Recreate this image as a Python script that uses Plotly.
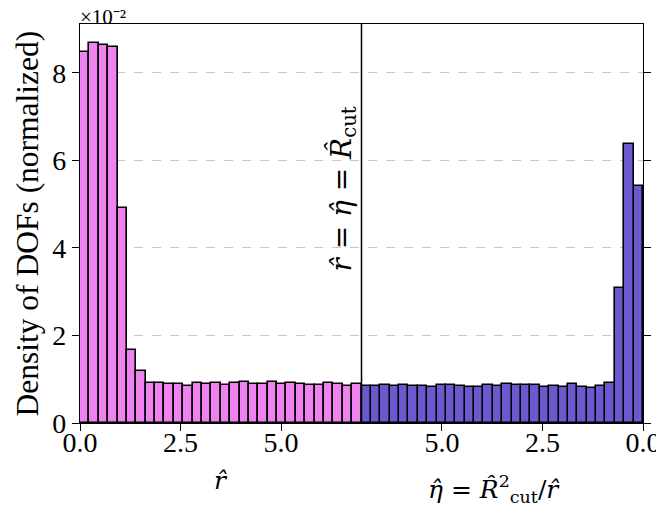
import numpy as np
import plotly.graph_objects as go

# ---- data (density of DOFs, in units of 1e-2) ----
R_CUT = 7.0
N_BINS = 30

r_density = [8.47, 8.68, 8.63, 8.60, 4.92, 1.67, 1.19, 0.91, 0.91, 0.89,
             0.89, 0.84, 0.92, 0.89, 0.905, 0.875, 0.905, 0.93, 0.88, 0.89,
             0.94, 0.88, 0.92, 0.89, 0.875, 0.875, 0.91, 0.89, 0.855, 0.88]

# eta bins in ascending eta (0 -> R_cut)
eta_density = [5.42, 6.38, 3.08, 0.905, 0.84, 0.79, 0.83, 0.89, 0.83, 0.845,
               0.83, 0.86, 0.86, 0.86, 0.897, 0.845, 0.874, 0.825, 0.821, 0.852,
               0.867, 0.859, 0.829, 0.836, 0.836, 0.874, 0.852, 0.867, 0.836, 0.836]

tick_vals = [0, 2.5, 5.0, 2 * R_CUT - 5.0, 2 * R_CUT - 2.5, 2 * R_CUT]
tick_text = ["0.0", "2.5", "5.0", "5.0", "2.5", "0.0"]
y_ticks = [0, 2, 4, 6, 8]

PINK = "#EE82EE"
BLUE = "#6A5ACD"
FONT = "Liberation Serif"
MATH = "DejaVu Serif"

edges = np.linspace(0, R_CUT, N_BINS + 1)
centers = 0.5 * (edges[:-1] + edges[1:])
width = edges[1] - edges[0]

fig = go.Figure()
fig.add_trace(go.Bar(
    x=centers, y=r_density, width=width,
    marker=dict(color=PINK, line=dict(color="black", width=1.6)),
    showlegend=False,
))
fig.add_trace(go.Bar(
    x=2 * R_CUT - centers, y=eta_density, width=width,
    marker=dict(color=BLUE, line=dict(color="black", width=1.6)),
    showlegend=False,
))

fig.add_shape(type="line", xref="x", yref="paper", x0=R_CUT, x1=R_CUT, y0=0, y1=1,
              line=dict(color="black", width=1.5))

ymax = max(max(r_density), max(eta_density)) * 1.05

fig.update_layout(
    width=656, height=502,
    margin=dict(l=72, r=21, t=16, b=87),
    plot_bgcolor="white", paper_bgcolor="white",
    bargap=0,
    font=dict(family=FONT, size=28, color="black"),
    xaxis=dict(range=[0, 2 * R_CUT], tickvals=tick_vals, ticktext=tick_text,
               ticks="outside", ticklen=7, tickwidth=1.3, tickcolor="black",
               showline=True, linecolor="black", linewidth=1.3, mirror=True,
               showgrid=False, zeroline=False, automargin=False,
               ticklabelstandoff=-13),
    yaxis=dict(range=[0, ymax], tickvals=y_ticks, ticktext=[str(v) for v in y_ticks],
               ticks="outside", ticklen=7, tickwidth=1.3, tickcolor="black",
               showline=True, linecolor="black", linewidth=1.3, mirror="ticks",
               showgrid=True, gridcolor="rgba(205,170,180,0.75)", griddash="dash",
               gridwidth=1.1, zeroline=False, automargin=False),
)

fig.add_annotation(text="Density of DOFs (normalized)", xref="paper", yref="paper",
                   x=0, y=0.5, xanchor="center", yanchor="middle", xshift=-53,
                   textangle=-90, showarrow=False, font=dict(size=31.5))
fig.add_annotation(text="×10⁻²", xref="paper", yref="paper",
                   x=0, y=1, xanchor="left", yanchor="bottom", showarrow=False,
                   font=dict(size=21), yshift=-7, xshift=-2)
fig.add_annotation(text="<i>r̂</i>", xref="x", yref="paper", x=R_CUT / 2, y=0,
                   yanchor="middle", yshift=-57, showarrow=False,
                   font=dict(family=MATH, size=25))
fig.add_annotation(text="<i>η̂</i> = <i>R̂</i><sup>2</sup><sub>cut</sub>/<i>r̂</i>",
                   xref="x", yref="paper", x=1.5 * R_CUT, y=0,
                   yanchor="middle", yshift=-66, xshift=-8, showarrow=False,
                   font=dict(family=MATH, size=25))
fig.add_annotation(text="<i>r̂</i> = <i>η̂</i> = <i>R̂</i><sub>cut</sub>",
                   xref="x", yref="paper", x=R_CUT, y=0.585, xanchor="right",
                   yanchor="middle", xshift=2, textangle=-90, showarrow=False,
                   font=dict(family=MATH, size=28))

fig.write_html("out.html")
